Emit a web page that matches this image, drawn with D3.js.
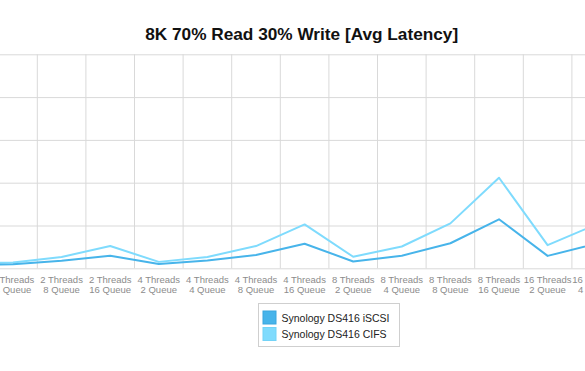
<!DOCTYPE html>
<html>
<head>
<meta charset="utf-8">
<script src="https://cdn.jsdelivr.net/npm/d3@7"></script>
<style>
  body { margin: 0; background: #fff; }
  svg { display: block; font-family: "Liberation Sans", Arial, sans-serif; }
</style>
</head>
<body>
<svg width="585" height="371"></svg>
<script>
// Categories (the chart is cropped, the first and last sit just outside the view)
const categories = [
  "2 Threads 2 Queue", "2 Threads 4 Queue", "2 Threads 8 Queue", "2 Threads 16 Queue",
  "4 Threads 2 Queue", "4 Threads 4 Queue", "4 Threads 8 Queue", "4 Threads 16 Queue",
  "8 Threads 2 Queue", "8 Threads 4 Queue", "8 Threads 8 Queue", "8 Threads 16 Queue",
  "16 Threads 2 Queue", "16 Threads 4 Queue"
];

// Avg latency (ms)
const iscsi = [1.4, 1.9, 3.5, 5.9, 2.0, 3.6, 6.2, 11.5, 3.2, 5.9, 11.7, 22.9, 5.8, 11.5];
const cifs = [2.2, 2.7, 5.3, 10.4, 3.0, 5.3, 10.4, 20.5, 5.4, 10.2, 21.0, 42.3, 10.8, 20.5];

const yTicks = [0, 20, 40, 60, 80, 100];

const seriesNames = ["Synology DS416 iSCSI", "Synology DS416 CIFS"];
const seriesColors = ["#47b4ea", "#7fdbfd"];
const swatchStroke = ["#3aa6de", "#73d3f7"];

const svg = d3.select("svg"),
  width = +svg.attr("width"),
  height = +svg.attr("height");

// Scales
const x = d3.scaleBand()
  .domain(categories)
  .range([-59.9, 620.5])
  .padding(0);

const y = d3.scaleLinear()
  .domain([0, 100])
  .range([268.3, 54.3]);

// Title
svg.append("text")
  .attr("x", 301.7)
  .attr("y", 39.5)
  .attr("text-anchor", "middle")
  .attr("textLength", 313)
  .attr("lengthAdjust", "spacingAndGlyphs")
  .style("font-size", "16.5px")
  .style("font-weight", "bold")
  .style("fill", "#111")
  .text("8K 70% Read 30% Write [Avg Latency]");

// Horizontal grid
const yGrid = svg.append("g")
  .attr("class", "y-grid")
  .call(d3.axisLeft(y).tickValues(yTicks).tickSize(-width).tickFormat(""));
yGrid.select(".domain").remove();
yGrid.selectAll("line").attr("stroke", "#d9d9d9");

// Vertical grid between categories
const xGrid = svg.append("g")
  .attr("class", "x-grid")
  .attr("transform", `translate(0,${y(0)})`)
  .call(d3.axisBottom(x).tickSize(-(y(0) - y(100))).tickFormat(""));
xGrid.select(".domain").remove();
xGrid.selectAll(".tick").attr("transform", d => `translate(${x(d)},0)`);
xGrid.selectAll("line").attr("stroke", "#d9d9d9");
xGrid.append("line")
  .attr("x1", x.range()[1]).attr("x2", x.range()[1])
  .attr("y1", 0).attr("y2", y(100) - y(0))
  .attr("stroke", "#d9d9d9");

// Two-line category labels
const labels = svg.append("g")
  .selectAll("text")
  .data(categories)
  .join("text")
  .attr("text-anchor", "middle")
  .attr("x", d => x(d) + x.bandwidth() / 2)
  .style("font-size", "9.5px")
  .style("fill", "#8c8c8c");

labels.append("tspan")
  .attr("x", d => x(d) + x.bandwidth() / 2)
  .attr("y", 282.5)
  .text(d => d.split(" ").slice(0, 2).join(" "));

labels.append("tspan")
  .attr("x", d => x(d) + x.bandwidth() / 2)
  .attr("y", 293)
  .text(d => d.split(" ").slice(2).join(" "));

// Lines
const line = d3.line()
  .x((d, i) => x(categories[i]) + x.bandwidth() / 2)
  .y(d => y(d));

[cifs, iscsi].forEach((values, k) => {
  svg.append("path")
    .datum(values)
    .attr("fill", "none")
    .attr("stroke", k === 0 ? seriesColors[1] : seriesColors[0])
    .attr("stroke-width", 2)
    .attr("stroke-linejoin", "round")
    .attr("d", line);
});

// Legend
const legend = svg.append("g").attr("transform", "translate(258.5,303.5)");

legend.append("rect")
  .attr("width", 141)
  .attr("height", 43)
  .attr("fill", "#fff")
  .attr("stroke", "#cfcfcf");

const item = legend.selectAll("g.item")
  .data(seriesNames)
  .join("g")
  .attr("class", "item")
  .attr("transform", (d, i) => `translate(4.5,${7.5 + i * 16.5})`);

item.append("rect")
  .attr("width", 13)
  .attr("height", 13)
  .attr("fill", (d, i) => seriesColors[i])
  .attr("stroke", (d, i) => swatchStroke[i]);

item.append("text")
  .attr("x", 18.5)
  .attr("y", 10.5)
  .style("font-size", "10.5px")
  .style("fill", "#222")
  .text(d => d);
</script>
</body>
</html>
